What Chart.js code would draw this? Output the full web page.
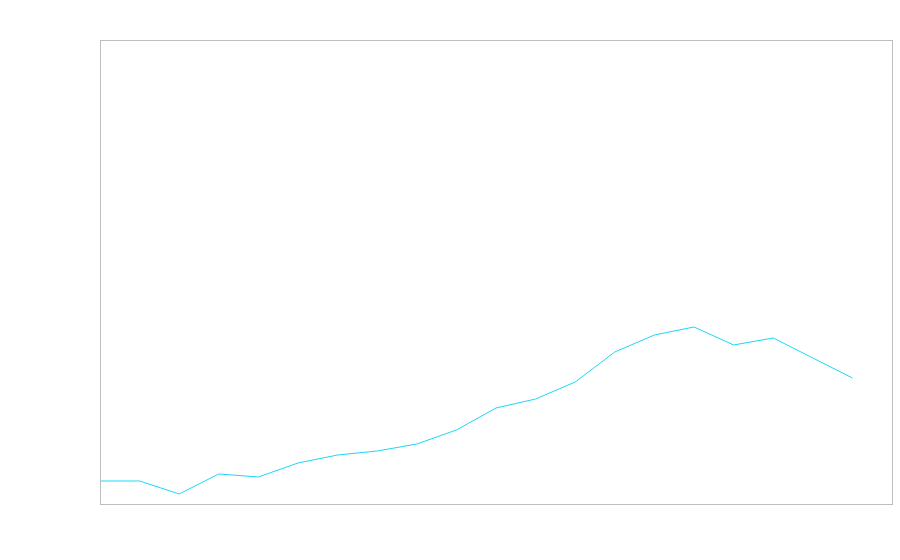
<!DOCTYPE html>
<html>
<head>
<meta charset="utf-8">
<script src="https://cdn.jsdelivr.net/npm/chart.js@4"></script>
<style>
  html, body { margin: 0; padding: 0; background: #fff; }
  #wrap { width: 900px; height: 560px; }
</style>
</head>
<body>
<div id="wrap"><canvas id="chart"></canvas></div>
<script>
// categories (no labels are shown in the reference)
const labels = ['1', '2', '3', '4', '5', '6', '7', '8', '9', '10',
                '11', '12', '13', '14', '15', '16', '17', '18', '19', '20', '21'];
// series values (last category empty)
const values = [4.96, 4.96, 2.16, 6.47, 5.82, 8.84, 10.56, 11.42, 12.93, 15.95,
                20.69, 22.63, 26.29, 32.76, 36.42, 38.15, 34.27, 35.78, 31.47, 27.16, null];
const yMin = 0;
const yMax = 100;

// draws the grey frame round the plot area
const frame = {
    id: 'frame',
    afterDraw(chart) {
        const a = chart.chartArea;
        const ctx = chart.ctx;
        ctx.save();
        ctx.strokeStyle = '#bdbdbd';
        ctx.lineWidth = 1;
        ctx.strokeRect(Math.round(a.left) + 0.5, Math.round(a.top) + 0.5,
                       Math.round(a.right - a.left), Math.round(a.bottom - a.top));
        ctx.restore();
    }
};

new Chart(document.getElementById('chart'), {
    type: 'line',
    data: {
        labels: labels,
        datasets: [{
            data: values,
            borderColor: '#1ed6f7',
            borderWidth: 1,
            pointRadius: 0,
            tension: 0,
            fill: false
        }]
    },
    options: {
        responsive: true,
        maintainAspectRatio: false,
        animation: false,
        layout: { padding: { left: 92, right: 8, top: 40, bottom: 48 } },
        scales: {
            x: {
                offset: false,
                grid: { display: false },
                border: { display: false },
                ticks: { display: false }
            },
            y: {
                min: yMin,
                max: yMax,
                grid: { display: false },
                border: { display: false },
                ticks: { display: false }
            }
        },
        plugins: {
            legend: { display: false },
            tooltip: { enabled: false }
        }
    },
    plugins: [frame]
});
</script>
</body>
</html>
